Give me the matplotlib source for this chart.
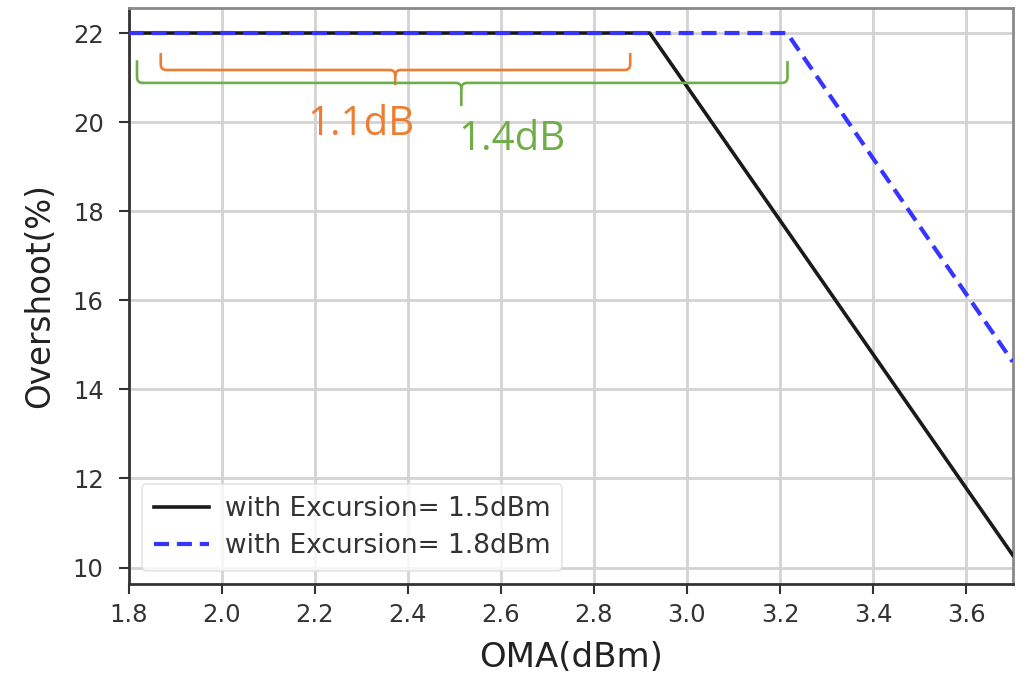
import matplotlib
matplotlib.use("Agg")
import matplotlib.pyplot as plt
from matplotlib.path import Path
from matplotlib.patches import PathPatch

# Data
oma_15 = [1.8, 2.92, 3.7]
overshoot_15 = [22.0, 22.0, 10.28]
oma_18 = [1.8, 3.215, 3.7]
overshoot_18 = [22.0, 22.0, 14.62]
label_15 = "with Excursion= 1.5dBm"
label_18 = "with Excursion= 1.8dBm"
xticks = [1.8, 2.0, 2.2, 2.4, 2.6, 2.8, 3.0, 3.2, 3.4, 3.6]
yticks = [10, 12, 14, 16, 18, 20, 22]

# Brace annotations
brace_orange = dict(x0=1.869, x1=2.878, xc=2.373, top0=21.55, top1=21.55, h=21.17, tip=20.83,
                    text="1.1dB", tx=2.183, ty=19.71, color="#ED7D31")
brace_green = dict(x0=1.818, x1=3.216, xc=2.515, top0=21.39, top1=21.37, h=20.88, tip=20.36,
                   text="1.4dB", tx=2.508, ty=19.37, color="#70AD47")

fig = plt.figure(figsize=(10.25, 6.74), dpi=100)
ax = fig.add_axes([0.1255, 0.1335, 0.8625, 0.8545])

ax.grid(True, color="#d3d3d3", linewidth=2.0, zorder=0)
ax.plot(oma_15, overshoot_15, color="#1a1a1a", linewidth=2.6, label=label_15, zorder=3)
ax.plot(oma_18, overshoot_18, color="#3535ff", linewidth=3.0, linestyle=(0, (3.6, 1.9)),
        label=label_18, zorder=4)

ax.set_xlim(1.8, 3.7)
ax.set_ylim(9.63, 22.56)
ax.set_xticks(xticks)
ax.set_yticks(yticks)
ax.set_xticklabels([f"{v:.1f}" for v in xticks])
ax.tick_params(axis="both", labelsize=17.5, colors="#333333", length=7, width=1.5, direction="out")
ax.tick_params(axis="x", pad=7)
ax.tick_params(axis="y", pad=11)
ax.set_xlabel("OMA(dBm)", fontsize=24.5, color="#222222", labelpad=10)
ax.set_ylabel("Overshoot(%)", fontsize=23.5, color="#222222", labelpad=12)

for side in ["left", "bottom"]:
    ax.spines[side].set_color("#333333")
    ax.spines[side].set_linewidth(2.0)
for side in ["top", "right"]:
    ax.spines[side].set_color("#8a8a8a")
    ax.spines[side].set_linewidth(2.0)

leg = ax.legend(loc="lower left", fontsize=19, frameon=True, fancybox=True,
                borderaxespad=0.5, handlelength=2.1, handletextpad=0.6, labelspacing=0.42,
                borderpad=0.45)
leg.get_frame().set_edgecolor("#dddddd")
leg.get_frame().set_linewidth(1.2)
for t in leg.get_texts():
    t.set_color("#333333")


def draw_brace(ax, b):
    rx, ry = 0.012, 0.13
    x0, x1, xc, h = b["x0"], b["x1"], b["xc"], b["h"]
    verts = [
        (x0, b["top0"]), (x0, h + ry), (x0, h), (x0 + rx, h), (xc - rx, h), (xc, h), (xc, h - ry), (xc, b["tip"]),
        (xc, h - ry), (xc, h), (xc + rx, h), (x1 - rx, h), (x1, h), (x1, h + ry), (x1, b["top1"]),
    ]
    codes = [
        Path.MOVETO, Path.LINETO, Path.CURVE3, Path.CURVE3, Path.LINETO, Path.CURVE3, Path.CURVE3, Path.LINETO,
        Path.MOVETO, Path.CURVE3, Path.CURVE3, Path.LINETO, Path.CURVE3, Path.CURVE3, Path.LINETO,
    ]
    patch = PathPatch(Path(verts, codes), facecolor="none", edgecolor=b["color"], linewidth=1.9,
                      zorder=5, clip_on=False)
    ax.add_patch(patch)
    ax.text(b["tx"], b["ty"], b["text"], color=b["color"], fontsize=29, family="Open Sans",
            ha="left", va="baseline", zorder=6)


draw_brace(ax, brace_orange)
draw_brace(ax, brace_green)

fig.savefig("out.png", dpi=100)
